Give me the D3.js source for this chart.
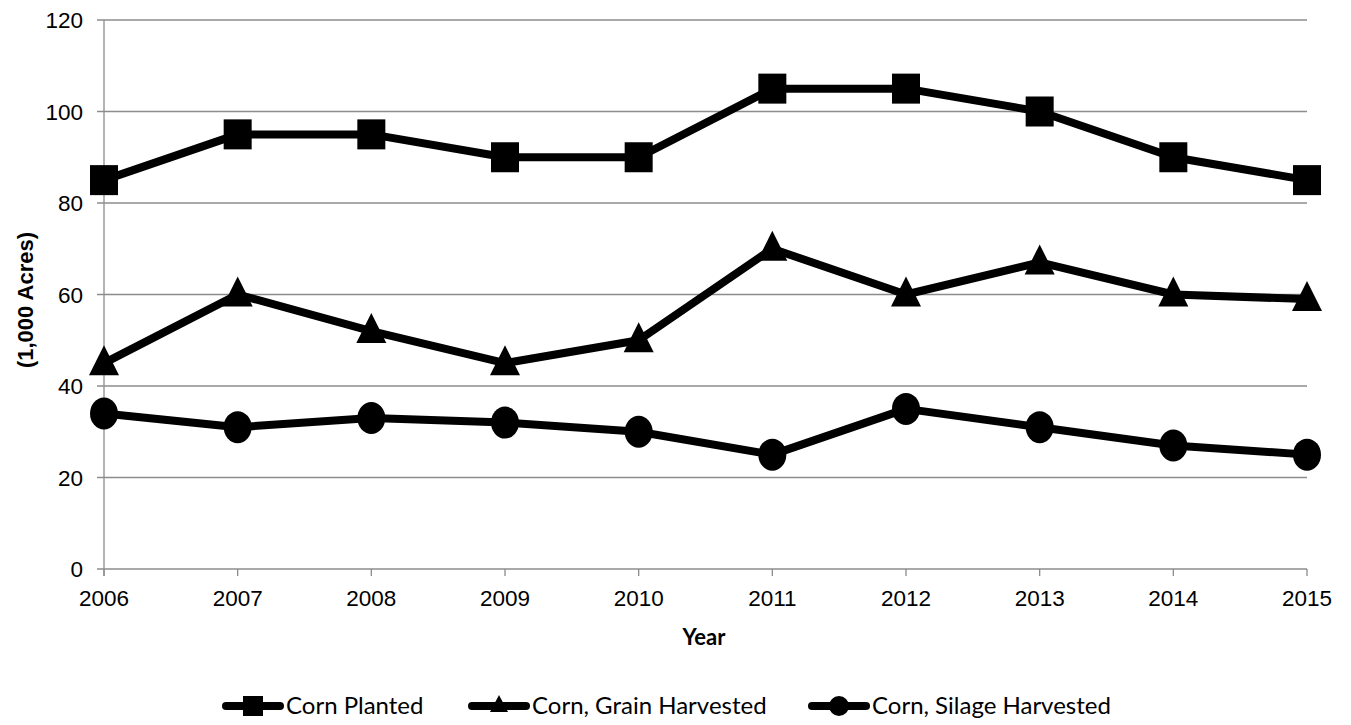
<!DOCTYPE html>
<html><head><meta charset="utf-8">
<script src="https://cdn.jsdelivr.net/npm/d3@7"></script>
<style>body{margin:0;background:#fff}</style>
</head><body>
<svg id="c" width="1351" height="725"></svg>
<script>
const years = [2006,2007,2008,2009,2010,2011,2012,2013,2014,2015];
const cornPlanted = [85,95,95,90,90,105,105,100,90,85];
const grainHarvested = [45,60,52,45,50,70,60,67,60,59];
const silageHarvested = [34,31,33,32,30,25,35,31,27,25];
const yTicks = [0,20,40,60,80,100,120];
const seriesNames = ["Corn Planted","Corn, Grain Harvested","Corn, Silage Harvested"];
const seriesShapes = ["square","triangle","circle"];

const svg = d3.select("#c");
const x = d3.scaleLinear().domain([2006,2015]).range([104,1307]);
const y = d3.scaleLinear().domain([0,120]).range([569,20]);

// gridlines
svg.append("g").selectAll("line").data(yTicks).join("line")
  .attr("x1",97).attr("x2",1307)
  .attr("y1",d=>y(d)).attr("y2",d=>y(d))
  .attr("stroke","#8c8c8c").attr("stroke-width",1.3);
// y axis line
svg.append("line").attr("x1",104).attr("x2",104).attr("y1",y(120)).attr("y2",y(0)+7)
  .attr("stroke","#8c8c8c").attr("stroke-width",1.3);
// x ticks
svg.append("g").selectAll("line").data(years).join("line")
  .attr("x1",d=>x(d)).attr("x2",d=>x(d)).attr("y1",y(0)).attr("y2",y(0)+7)
  .attr("stroke","#8c8c8c").attr("stroke-width",1.3);

const tickFont = "'Liberation Sans', Arial, sans-serif";
svg.append("g").selectAll("text").data(yTicks).join("text")
  .attr("x",83).attr("y",d=>y(d)).attr("dy","0.36em")
  .attr("text-anchor","end").attr("font-family",tickFont).attr("font-size",22.5)
  .text(d=>d);
svg.append("g").selectAll("text").data(years).join("text")
  .attr("x",d=>x(d)).attr("y",y(0)+37)
  .attr("text-anchor","middle").attr("font-family",tickFont).attr("font-size",22.5)
  .text(d=>d);

svg.append("text").attr("transform","translate(33,300) rotate(-90)")
  .attr("text-anchor","middle").attr("font-family",tickFont).attr("font-weight","bold")
  .attr("font-size",22).text("(1,000 Acres)");
svg.append("text").attr("x",704).attr("y",645)
  .attr("text-anchor","middle").attr("font-family","Lato, 'Open Sans', sans-serif").attr("font-weight","bold")
  .attr("font-size",22).text("Year");

function marker(g, shape, cx, cy){
  if(shape==="square"){
    g.append("rect").attr("x",cx-14).attr("y",cy-15).attr("width",28).attr("height",30).attr("fill","#000");
  } else if(shape==="triangle"){
    g.append("path").attr("d",`M${cx},${cy-18}L${cx+15},${cy+12}L${cx-15},${cy+12}Z`).attr("fill","#000");
  } else {
    g.append("ellipse").attr("cx",cx).attr("cy",cy).attr("rx",14).attr("ry",16).attr("fill","#000");
  }
}

const allSeries = [cornPlanted, grainHarvested, silageHarvested];
const line = d3.line().x((d,i)=>x(years[i])).y(d=>y(d));
allSeries.forEach((vals,si)=>{
  const g = svg.append("g");
  g.append("path").attr("d",line(vals)).attr("fill","none").attr("stroke","#000")
    .attr("stroke-width",8).attr("stroke-linejoin","round");
  vals.forEach((v,i)=>marker(g, seriesShapes[si], x(years[i]), y(v)));
});

// legend
const legX = [226, 472, 812];
const legY = 706;
seriesNames.forEach((name,i)=>{
  const g = svg.append("g");
  g.append("line").attr("x1",legX[i]).attr("x2",legX[i]+54).attr("y1",legY).attr("y2",legY)
    .attr("stroke","#000").attr("stroke-width",8).attr("stroke-linecap","round");
  const cx = legX[i]+27;
  if(seriesShapes[i]==="square") g.append("rect").attr("x",cx-10).attr("y",legY-10).attr("width",20).attr("height",20);
  else if(seriesShapes[i]==="triangle") g.append("path").attr("d",`M${cx},${legY-11}L${cx+9},${legY+6}L${cx-9},${legY+6}Z`);
  else g.append("ellipse").attr("cx",cx).attr("cy",legY).attr("rx",10).attr("ry",10);
  g.append("text").attr("x",legX[i]+60).attr("y",legY+8).attr("font-family","Lato, 'Open Sans', sans-serif")
    .attr("font-size",24).text(name);
});
</script>
</body></html>
